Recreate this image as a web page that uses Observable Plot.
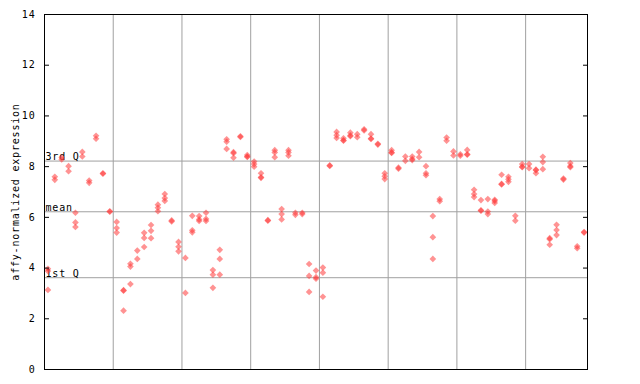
<!DOCTYPE html>
<html><head><meta charset="utf-8">
<script src="https://cdn.jsdelivr.net/npm/d3@7"></script>
<script src="https://cdn.jsdelivr.net/npm/@observablehq/plot@0.6"></script>
<style>body{margin:0;background:#fff} svg text{letter-spacing:0.8px}</style>
</head><body><div id="chart"></div>
<script>
// expression values per sample (replicates), samples in plot order
const sampleValues = [
  [3.97, 3.88, 3.14], [7.6, 7.48], [8.36, 8.28], [8.02, 7.82], [6.18, 5.8, 5.62],
  [8.58, 8.4], [7.45, 7.36], [9.22, 9.1], [7.74, 7.72], [6.24, 6.22],
  [5.82, 5.58, 5.4], [3.13, 3.11, 2.32], [4.17, 4.06, 3.37], [4.69, 4.36], [5.39, 5.19, 4.83],
  [5.7, 5.47, 5.18], [6.5, 6.38, 6.24], [6.92, 6.76, 6.65], [5.88, 5.84], [5.03, 4.84, 4.66],
  [4.4, 3.02], [6.06, 5.49, 5.41], [6.05, 5.92, 5.86], [6.18, 5.94, 5.86], [3.92, 3.74, 3.22],
  [4.72, 4.36, 3.74], [9.08, 8.98, 8.7], [8.57, 8.53, 8.35], [9.2, 9.17], [8.46, 8.4, 8.38],
  [8.2, 8.1, 8.0], [7.74, 7.58, 7.56], [5.89, 5.87], [8.65, 8.56, 8.37], [6.33, 6.13, 5.92],
  [8.65, 8.56, 8.43], [6.18, 6.1], [6.18, 6.13], [4.16, 3.69, 3.06], [3.9, 3.64, 3.58],
  [4.02, 3.82, 2.87], [8.05, 8.03], [9.37, 9.24, 9.13], [9.12, 9.04, 9.02], [9.34, 9.23, 9.2],
  [9.28, 9.16], [9.47, 9.43], [9.28, 9.11, 9.09], [8.9, 8.87], [7.74, 7.62, 7.51],
  [8.65, 8.56, 8.54], [7.96, 7.92], [8.4, 8.23], [8.4, 8.3, 8.26], [8.58, 8.37],
  [8.02, 7.74, 7.66], [6.05, 5.22, 4.36], [6.72, 6.64], [9.15, 9.02], [8.6, 8.44],
  [8.49, 8.43], [8.66, 8.49, 8.47], [7.09, 6.92, 6.8], [6.68, 6.28, 6.26], [6.72, 6.23, 6.13],
  [6.69, 6.65, 6.57], [7.68, 7.32, 7.3], [7.6, 7.5, 7.4], [6.06, 5.87], [8.1, 8.0, 7.98],
  [8.1, 7.94], [7.88, 7.86, 7.74], [8.39, 8.18, 7.9], [5.18, 5.14, 4.92], [5.71, 5.5, 5.3],
  [7.53, 7.49], [8.14, 8.02, 7.98], [4.86, 4.78], [5.42, 5.4]
];
const groupBreaks = [10, 20, 30, 40, 50, 60, 70];
const refNames = ["1st Q", "mean", "3rd Q"];
const refValues = [3.62, 6.22, 8.22];
const yTicks = [0, 2, 4, 6, 8, 10, 12, 14];

const points = sampleValues.flatMap((vals, i) => vals.map(v => ({x: i + 0.5, y: v})));
const refs = refNames.map((n, i) => ({name: n, y: refValues[i]}));
const font = "DejaVu Sans Mono, monospace";

const chart = Plot.plot({
  width: 640,
  height: 384,
  marginLeft: 44,
  marginRight: 53,
  marginTop: 14,
  marginBottom: 15,
  style: {fontFamily: font, fontSize: "10px", background: "#fff", color: "#000"},
  x: {domain: [0, sampleValues.length], axis: null},
  y: {domain: [0, 14]},
  marks: [
    Plot.ruleX(groupBreaks, {stroke: "#a0a0a0", strokeWidth: 1}),
    Plot.ruleY(refValues, {stroke: "#a0a0a0", strokeWidth: 1}),
    Plot.text(refs, {x: 0, y: "y", text: "name", textAnchor: "start", lineAnchor: "bottom", dy: -1, dx: 1,
      fill: "#000", fontFamily: font, fontSize: 10}),
    Plot.dot(points, {x: "x", y: "y", symbol: "diamond2", r: 3, fill: "#ff3b3b", fillOpacity: 0.55, stroke: "none"}),
    Plot.axisY({ticks: yTicks, tickSize: -5, tickPadding: 14, tickFormat: d => String(d),
      label: "affy-normalized expression", labelAnchor: "center", labelArrow: "none", labelOffset: 33,
      fontFamily: font, fontSize: 10}),
    Plot.axisY({ticks: yTicks, anchor: "right", tickSize: -5, tickFormat: () => "", label: null}),
    Plot.frame({stroke: "#000", strokeWidth: 1})
  ]
});
document.getElementById("chart").appendChild(chart);
</script>
</body></html>
